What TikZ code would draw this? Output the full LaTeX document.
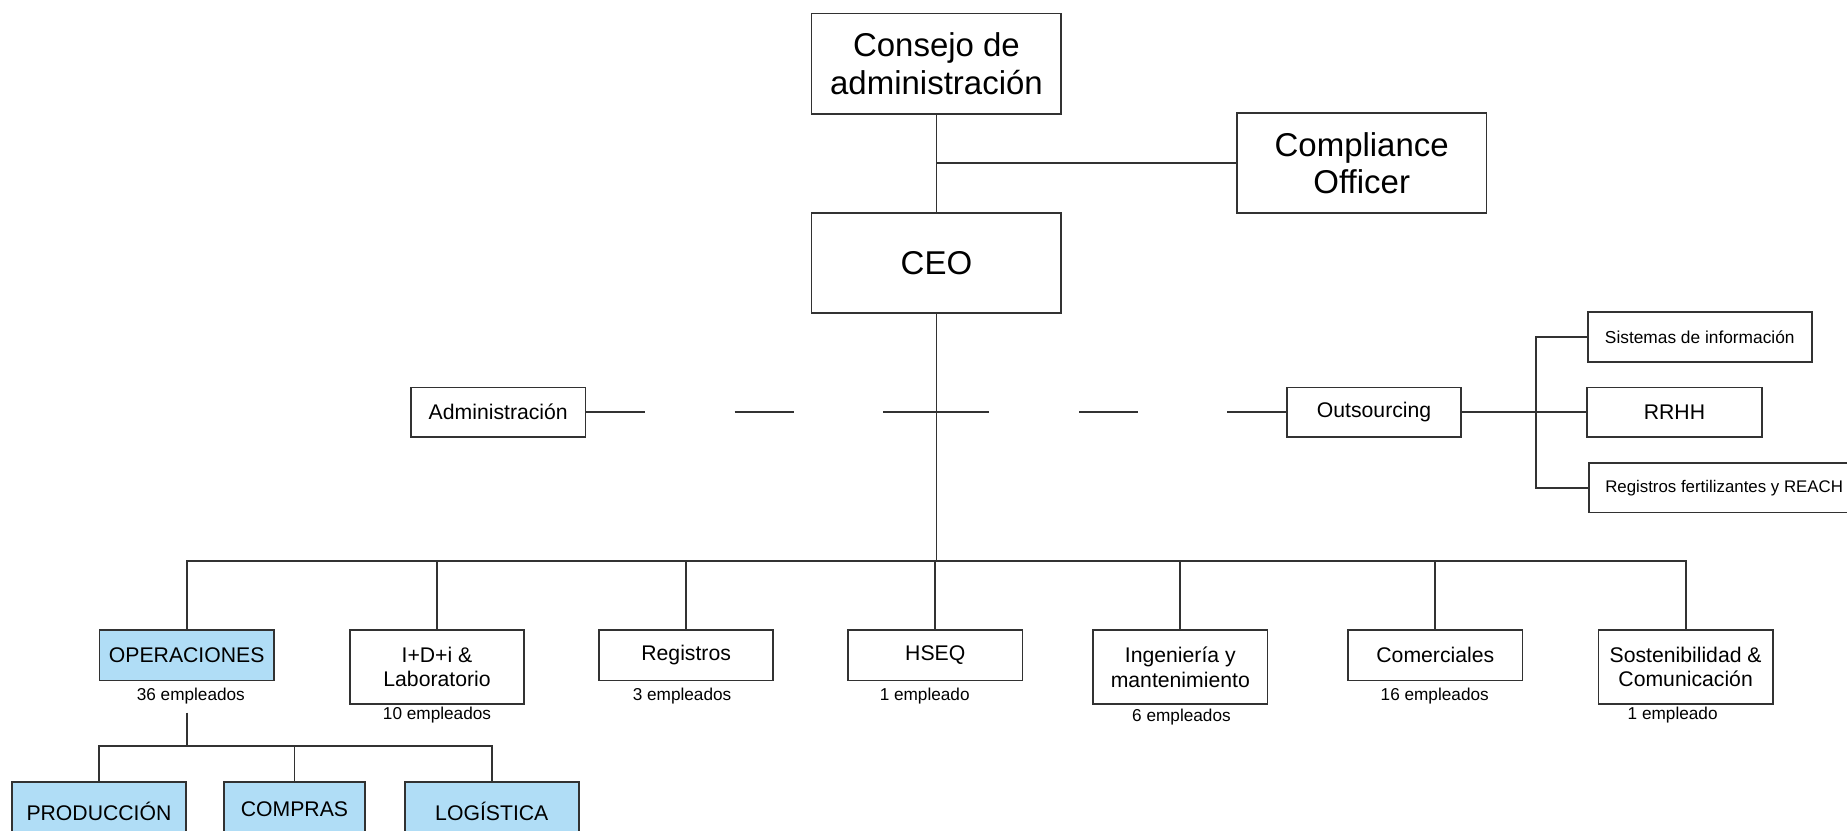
\documentclass[tikz,border=0pt]{standalone}
\usepackage{fontspec}
\setmainfont{Liberation Sans}
\definecolor{linec}{RGB}{50,50,50}
\definecolor{opsblue}{RGB}{176,221,246}
\begin{document}
\begin{tikzpicture}[x=0.5pt,y=-0.5pt,
  ln/.style={draw=linec, line width=0.75pt},
  box/.style={draw=linec, line width=0.75pt, inner sep=0pt, align=center, text=black},
  big/.style={box, minimum width=106pt, minimum height=42.5pt, font=\fontsize{14}{16}\selectfont},
  midbox/.style={box, minimum width=74pt, minimum height=21pt, font=\fontsize{9}{11}\selectfont},
  smallbox/.style={box, minimum height=21pt, font=\fontsize{7.35}{9}\selectfont},
  dept/.style={box, anchor=north, minimum width=74pt, minimum height=21.5pt, font=\fontsize{9}{10.5}\selectfont},
  dept2/.style={dept, minimum height=31.5pt},
  emp/.style={inner sep=0pt, font=\fontsize{7.3}{9}\selectfont},
  bluebox/.style={fill=opsblue},
  dashln/.style={ln, dash pattern=on 25pt off 38pt}
]
\useasboundingbox (0,0) rectangle (1568,705);
\clip (0,0) rectangle (1568,705);

% top
\node[big] (consejo) at (795,54) {Consejo de\\administración};
\node[big] (comp) at (1156,138.5) {Compliance\\Officer};
\node[big] (ceo) at (795,223.5) {CEO};
\draw[ln] (consejo.south) -- (ceo.north);
\draw[ln] (consejo.south |- comp.west) -- (comp.west);

% middle row
\node[midbox] (admin) at (423,350) {Administración};
\node[midbox] (outs) at (1166.5,350) {Outsourcing};
\coordinate (mid) at (ceo.south |- admin.east);
\draw[dashln] (admin.east) -- (mid);
\draw[dashln] (outs.west) -- (mid);

% outsourcing branch
\node[smallbox, minimum width=95pt] (sist) at (1443,286) {Sistemas de información};
\node[midbox] (rrhh) at (1421.5,350) {RRHH};
\node[smallbox, anchor=west, inner xsep=7pt, font=\fontsize{7.15}{9}\selectfont] (regf) at (1348,414) {Registros fertilizantes y REACH};
\coordinate (ojoint) at (1304,350);
\draw[ln] (outs.east) -- (rrhh.west);
\draw[ln] (sist.west) -- (ojoint |- sist.west) -- (ojoint |- regf.west) -- (regf.west);

% departments
\coordinate (bus) at (795,476);
\node[dept, bluebox] (ops) at (158.5,534) {OPERACIONES};
\node[dept2] (idi) at (371,534) {I+D+i \&\\Laboratorio};
\node[dept] (reg) at (582.5,534) {Registros};
\node[dept] (hseq) at (794,534) {HSEQ};
\node[dept2] (ing) at (1002,534) {Ingeniería y\\mantenimiento};
\node[dept] (comer) at (1218.5,534) {Comerciales};
\node[dept2] (sost) at (1431,534) {Sostenibilidad \&\\Comunicación};

\draw[ln] (ceo.south) -- (bus);
\draw[ln] (ops.north) -- (ops.north |- bus) -- (sost.north |- bus) -- (sost.north);
\foreach \n in {idi,reg,hseq,ing,comer}
  \draw[ln] (\n.north |- bus) -- (\n.north);

% employee counts
\node[emp] (e1) at (162,591) {36 empleados};
\node[emp] (e2) at (371,607) {10 empleados};
\node[emp] (e3) at (579,591) {3 empleados};
\node[emp] (e4) at (785,591) {1 empleado};
\node[emp] (e5) at (1003,609) {6 empleados};
\node[emp] (e6) at (1218,591) {16 empleados};
\node[emp] (e7) at (1420,607) {1 empleado};

% operaciones sub-units
\coordinate (opstop) at (158.5,605);
\coordinate (subbus) at (158.5,633);
\node[dept, bluebox, minimum height=25pt] (prod) at (84,663) {PRODUCCIÓN};
\node[dept, bluebox, minimum width=60pt, minimum height=23pt] (compras) at (250,663) {COMPRAS};
\node[dept, bluebox, minimum height=25pt] (logi) at (417.5,663) {LOGÍSTICA};
\draw[ln] (opstop) -- (subbus);
\draw[ln] (prod.north) -- (prod.north |- subbus) -- (logi.north |- subbus) -- (logi.north);
\draw[ln] (compras.north |- subbus) -- (compras.north);
\end{tikzpicture}
\end{document}
